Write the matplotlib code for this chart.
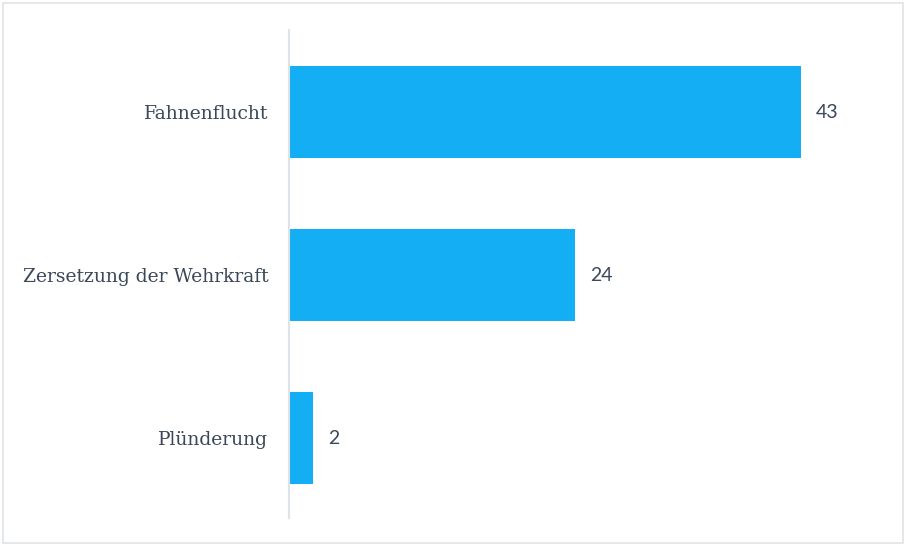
import matplotlib
matplotlib.use("Agg")
import matplotlib.pyplot as plt
from matplotlib.patches import Rectangle

categories = ["Fahnenflucht", "Zersetzung der Wehrkraft", "Plünderung"]
values = [43, 24, 2]

bar_color = "#14AEF5"
text_color = "#3b4859"

fig = plt.figure(figsize=(9.05, 5.45), dpi=100)
W, H = 905, 545
ax = fig.add_axes([289 / W, (H - 518) / H, (885 - 289) / W, (518 - 30) / H])

y = list(range(len(categories)))
ax.barh(y, values, height=0.565, color=bar_color, zorder=2)
ax.set_ylim(2.49, -0.503)
ax.set_xlim(0, 50.05)

for yi, v in zip(y, values):
    ax.text(v + 1.25, yi, str(v), va="center", ha="left", fontsize=14,
            color=text_color, family=["Lato", "DejaVu Sans"])

ax.set_yticks(y)
ax.set_yticklabels(categories, fontsize=13.5, color=text_color,
                   family=["DejaVu Serif"])
ax.tick_params(axis="y", length=0, pad=15)
ax.set_xticks([])
for s in ["top", "right", "bottom"]:
    ax.spines[s].set_visible(False)
ax.spines["left"].set_color("#dde3e8")
ax.spines["left"].set_linewidth(1.5)

fig.patches.append(Rectangle((3 / W, 2 / H), (W - 5) / W, (H - 5) / H,
                             transform=fig.transFigure, fill=False,
                             edgecolor="#dfe4e8", linewidth=1.2))

fig.savefig("out.png", dpi=100)
